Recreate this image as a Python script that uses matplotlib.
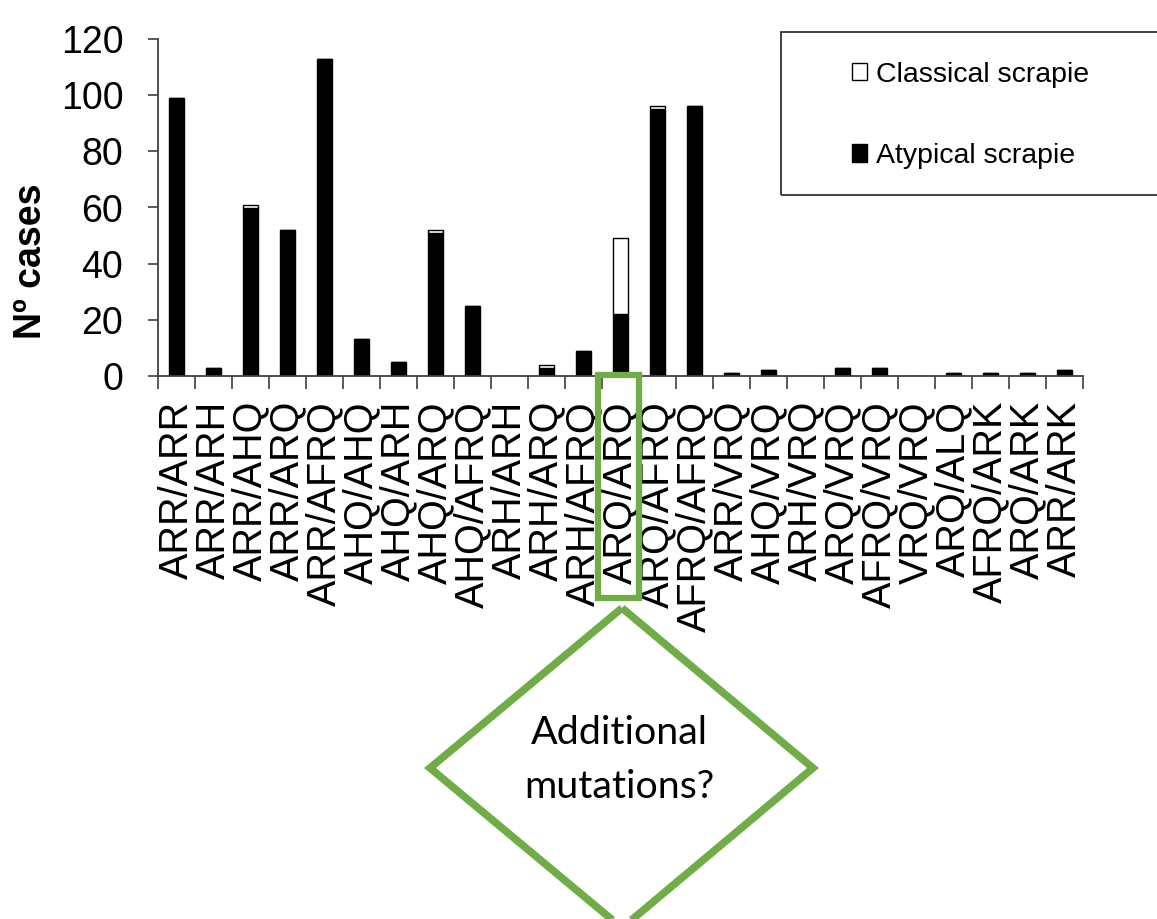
#!/usr/bin/env python3

import matplotlib
matplotlib.use("Agg")
import matplotlib.pyplot as plt
from matplotlib.patches import Rectangle, Polygon
from matplotlib.transforms import blended_transform_factory

# ---------------------------- Data ---------------------------- #

genotypes = [
    "ARR/ARR", "ARR/ARH", "ARR/AHQ", "ARR/ARQ", "ARR/AFRQ",
    "AHQ/AHQ", "AHQ/ARH", "AHQ/ARQ", "AHQ/AFRQ", "ARH/ARH",
    "ARH/ARQ", "ARH/AFRQ", "ARQ/ARQ", "ARQ/AFRQ", "AFRQ/AFRQ",
    "ARR/VRQ", "AHQ/VRQ", "ARH/VRQ", "ARQ/VRQ", "AFRQ/VRQ",
    "VRQ/VRQ", "ARQ/ALQ", "AFRQ/ARK", "ARQ/ARK", "ARR/ARK",
]
atypical = [99, 3, 60, 52, 113, 13, 5, 51, 25, 0,
            3, 9, 22, 95, 96, 1, 2, 0, 3, 3,
            0, 1, 1, 1, 2]
classical = [0, 0, 1, 0, 0, 0, 0, 1, 0, 0,
             1, 0, 27, 1, 0, 0, 0, 0, 0, 0,
             0, 0, 0, 0, 0]
highlight = "ARQ/ARQ"

# ---------------------------- Figure ---------------------------- #

W, H = 1157, 919
fig = plt.figure(figsize=(W / 100, H / 100), dpi=100)


def px(x, y):
    # pixel position (from top-left) -> figure fraction
    return x / W, 1 - y / H


ax = fig.add_axes([158 / W, 1 - 376 / H, 925 / W, 337 / H])

pos = list(range(len(genotypes)))
ax.bar(pos, atypical, width=0.42, color="black", edgecolor="black",
       linewidth=1, label="Atypical scrapie", zorder=2)
ax.bar(pos, classical, width=0.42, bottom=atypical, color="white",
       edgecolor="black", linewidth=1, label="Classical scrapie", zorder=2)

ax.set_xlim(-0.5, len(genotypes) - 0.5)
ax.set_ylim(0, 120)
ax.set_yticks(range(0, 121, 20))
ax.set_xticks(pos)
ax.set_xticklabels(genotypes, rotation=90, fontsize=28.5,
                   family="Liberation Sans")
ax.set_xticks([p + 0.5 for p in pos[:-1]] + [-0.5, len(pos) - 0.5], minor=True)
ax.tick_params(axis="x", which="major", length=0, pad=18)
ax.tick_params(axis="x", which="minor", length=9, width=1.2, color="#404040")
ax.tick_params(axis="y", length=7, width=1.2, color="#404040", pad=18,
               labelsize=27)
for lab in ax.get_yticklabels():
    lab.set_family("Liberation Sans")

for side in ("top", "right"):
    ax.spines[side].set_visible(False)
for side in ("left", "bottom"):
    ax.spines[side].set_color("#404040")
    ax.spines[side].set_linewidth(1.3)

ax.set_ylabel("Nº cases", fontsize=27, fontweight="bold",
              family="Liberation Sans")
ax.yaxis.set_label_coords(-0.118, 0.34)

# legend box runs off the right edge of the picture
fx0, fy0 = px(781, 195)
fx1, fy1 = px(1170, 32)
fig.patches.append(Rectangle((fx0, fy0), fx1 - fx0, fy1 - fy0,
                             transform=fig.transFigure, fill=False,
                             edgecolor="#333333", linewidth=1.3))
handles, labels = ax.get_legend_handles_labels()
leg = fig.legend(handles[::-1], labels[::-1], loc="upper left",
                 bbox_to_anchor=px(826, 36), frameon=False,
                 prop={"family": "Liberation Sans", "size": 20.5},
                 handlelength=0.55, handleheight=0.55, handletextpad=0.3,
                 labelspacing=1.95)

# green box around the highlighted label
green = "#70AD47"
i = genotypes.index(highlight)
trans = blended_transform_factory(ax.transData, fig.transFigure)
_, ry0 = px(0, 598)
_, ry1 = px(0, 375)
fig.patches.append(Rectangle((i - 0.6, ry0), 1.1, ry1 - ry0,
                             transform=trans, fill=False,
                             edgecolor=green, linewidth=4.5, clip_on=False))

# diamond with question
diamond = [px(622, 608), px(813, 768), px(622, 928), px(430, 768)]
fig.patches.append(Polygon(diamond, closed=True, fill=False,
                           edgecolor=green, linewidth=5.5,
                           transform=fig.transFigure))
tx, ty = px(619, 760)
fig.text(tx, ty, "Additional\nmutations?", ha="center", va="center",
         fontsize=28.4, family="Lato", linespacing=1.6)

fig.savefig("out.png", dpi=100)
